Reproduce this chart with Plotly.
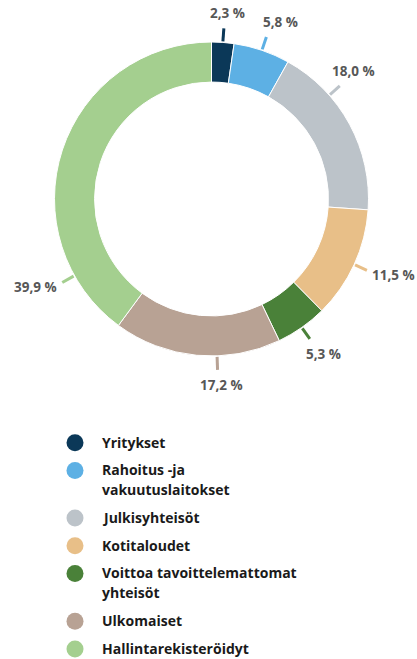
import math
import plotly.graph_objects as go

# ---- data ----
categories = [
    "Yritykset",
    "Rahoitus -ja<br>vakuutuslaitokset",
    "Julkisyhteisöt",
    "Kotitaloudet",
    "Voittoa tavoittelemattomat<br>yhteisöt",
    "Ulkomaiset",
    "Hallintarekisteröidyt",
]
values = [2.3, 5.8, 18.0, 11.5, 5.3, 17.2, 39.9]
colors = ["#0b3858", "#5db0e4", "#bcc3c9", "#e8bf88", "#4a8139", "#b8a294", "#a4cf8f"]
label_frac = [0.5, 0.5, 0.30, 0.5, 0.5, 0.38, 0.17]  # where along each slice the label tick sits

# ---- geometry (pixels) ----
W, H = 417, 659
CX, CY, R = 211.5, 199.0, 157.0
HOLE = 0.745
FONT = "Open Sans"


def px(x):
    return x / W


def py(y):
    return 1 - y / H


fig = go.Figure()
fig.add_trace(go.Pie(
    labels=[c.replace("<br>", " ") for c in categories],
    values=values,
    marker=dict(colors=colors, line=dict(color="white", width=1)),
    hole=HOLE,
    sort=False,
    direction="clockwise",
    rotation=0,
    textinfo="none",
    showlegend=False,
    domain=dict(x=[px(CX - R), px(CX + R)], y=[py(CY + R), py(CY - R)]),
))

shapes = []
annotations = []
total = sum(values)
cum = 0.0
for v, col, f in zip(values, colors, label_frac):
    theta = math.radians(360 * (cum + f * v) / total)
    cum += v
    ux, uy = math.sin(theta), -math.cos(theta)
    x0, y0 = CX + (R + 1) * ux, CY + (R + 1) * uy
    x1, y1 = CX + (R + 14) * ux, CY + (R + 14) * uy
    shapes.append(dict(type="line", xref="paper", yref="paper",
                       x0=px(x0), y0=py(y0), x1=px(x1), y1=py(y1),
                       line=dict(color=col, width=3)))
    text = f"{v:.1f}".replace(".", ",") + " %"
    half_w = 3.45 * len(text)
    if abs(uy) >= 0.6:
        ty = y1 + 15 * (1 if uy > 0 else -1)
        tx = x1 + (4 if abs(ux) < 0.2 else 14 * (1 if ux > 0 else -1))
    else:
        tx = x1 + (half_w + 6) * (1 if ux > 0 else -1)
        ty = y1 + 5
    annotations.append(dict(x=px(tx), y=py(ty), xref="paper", yref="paper",
                            text=text, showarrow=False, xanchor="center", yanchor="middle",
                            font=dict(family=FONT, size=13.5, color="#575757", weight="bold")))

# ---- legend (manual, circles) ----
LX_C, LX_T, LY0 = 75, 100, 442.0
ITEM_STEP, LINE_STEP, DOT_R = 27.7, 20.0, 8.5
y = LY0
for cat, col in zip(categories, colors):
    shapes.append(dict(type="circle", xref="paper", yref="paper",
                       x0=px(LX_C - DOT_R), x1=px(LX_C + DOT_R),
                       y0=py(y + 0.7 - DOT_R), y1=py(y + 0.7 + DOT_R),
                       fillcolor=col, line=dict(width=0)))
    lines = cat.split("<br>")
    for i, ln in enumerate(lines):
        annotations.append(dict(x=px(LX_T), y=py(y + i * LINE_STEP), xref="paper", yref="paper",
                                text=ln, showarrow=False, xanchor="left", yanchor="middle",
                                font=dict(family=FONT, size=14, color="#1a1a1a", weight="bold")))
    y += (len(lines) - 1) * LINE_STEP + ITEM_STEP

fig.update_layout(
    width=W, height=H, autosize=False,
    margin=dict(l=0, r=0, t=0, b=0),
    paper_bgcolor="white", plot_bgcolor="white",
    shapes=shapes, annotations=annotations,
    showlegend=False,
)
fig.write_html("out.html", config={"displayModeBar": False},
               post_script="document.body.style.margin='0';")
